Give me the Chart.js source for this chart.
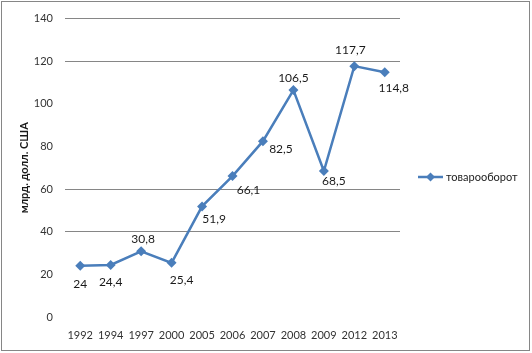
<!DOCTYPE html>
<html>
<head>
<meta charset="utf-8">
<script src="https://cdn.jsdelivr.net/npm/chart.js@4"></script>
<style>
  html, body { margin: 0; padding: 0; background: #fff; }
  #wrap { width: 532px; height: 353px; position: relative; }
</style>
</head>
<body>
<div id="wrap"><canvas id="tradeChart" width="532" height="353"></canvas></div>
<script>
// данные
const years = ["1992", "1994", "1997", "2000", "2005", "2006", "2007", "2008", "2009", "2012", "2013"];
const turnover = [24, 24.4, 30.8, 25.4, 51.9, 66.1, 82.5, 106.5, 68.5, 117.7, 114.8];
const seriesName = "товарооборот";
const axisTitle = "млрд. долл. США";
const yTicks = [0, 20, 40, 60, 80, 100, 120, 140];
const gridShown = [40, 60, 120, 140];

// смещения подписей значений (стиль, не данные)
const labelOffsets = [
  [0, 18], [0, 17], [2, -12], [10, 17], [12, 13], [16, 14],
  [18, 8], [0, -12], [10, 10], [-4, -16], [9, 16],
];

const blue = "#4A7EBB";
const font = "Lato, 'Liberation Sans', sans-serif";

const extras = {
  id: "extras",
  afterDatasetsDraw(chart) {
    const ctx = chart.ctx;
    const meta = chart.getDatasetMeta(0);
    ctx.save();
    ctx.fillStyle = "#1a1a1a";
    ctx.font = "12px " + font;
    ctx.textAlign = "center";
    ctx.textBaseline = "middle";
    meta.data.forEach((pt, i) => {
      const txt = String(turnover[i]).replace(".", ",");
      const o = labelOffsets[i];
      ctx.fillText(txt, pt.x + o[0], pt.y + o[1]);
    });

    // легенда
    const ly = 177;
    ctx.strokeStyle = blue;
    ctx.lineWidth = 2.5;
    ctx.beginPath();
    ctx.moveTo(418, ly);
    ctx.lineTo(443, ly);
    ctx.stroke();
    ctx.fillStyle = blue;
    ctx.beginPath();
    ctx.moveTo(430.5, ly - 4.5);
    ctx.lineTo(435, ly);
    ctx.lineTo(430.5, ly + 4.5);
    ctx.lineTo(426, ly);
    ctx.closePath();
    ctx.fill();
    ctx.fillStyle = "#1a1a1a";
    ctx.font = "11px " + font;
    ctx.textAlign = "left";
    ctx.fillText(seriesName, 446, ly);

    // рамка
    ctx.strokeStyle = "#868686";
    ctx.lineWidth = 1;
    ctx.strokeRect(1.5, 1.5, 528, 349);
    ctx.restore();
  },
};

new Chart(document.getElementById("tradeChart"), {
  type: "line",
  data: {
    labels: years,
    datasets: [
      {
        label: seriesName,
        data: turnover,
        borderColor: blue,
        backgroundColor: blue,
        borderWidth: 2.5,
        pointStyle: "rectRot",
        pointRadius: 5,
        pointBorderWidth: 0,
        tension: 0,
      },
    ],
  },
  options: {
    responsive: false,
    animation: false,
    layout: {
      padding: { left: 10, right: 132, top: 8, bottom: 6 },
    },
    plugins: {
      legend: { display: false },
      tooltip: { enabled: false },
    },
    scales: {
      x: {
        offset: true,
        grid: { display: false },
        border: { display: false },
        ticks: {
          color: "#333",
          font: { family: font, size: 11 },
          padding: 4,
          maxRotation: 0,
          autoSkip: false,
        },
        afterFit(scale) {
          scale.height = 30;
        },
      },
      y: {
        min: 0,
        max: 140,
        afterBuildTicks(scale) {
          scale.ticks = yTicks.map((v) => ({ value: v }));
        },
        grid: {
          drawTicks: false,
          color: (c) => (gridShown.includes(c.tick.value) ? "#868686" : "rgba(0,0,0,0)"),
          lineWidth: 1,
        },
        border: { display: false },
        ticks: {
          color: "#333",
          font: { family: font, size: 11 },
          padding: 12,
        },
        title: {
          display: true,
          text: axisTitle,
          color: "#1a1a1a",
          font: { family: font, size: 11, weight: "bold" },
          padding: { top: 8, bottom: 0 },
        },
        afterFit(scale) {
          scale.width = 55;
        },
      },
    },
  },
  plugins: [extras],
});
</script>
</body>
</html>
